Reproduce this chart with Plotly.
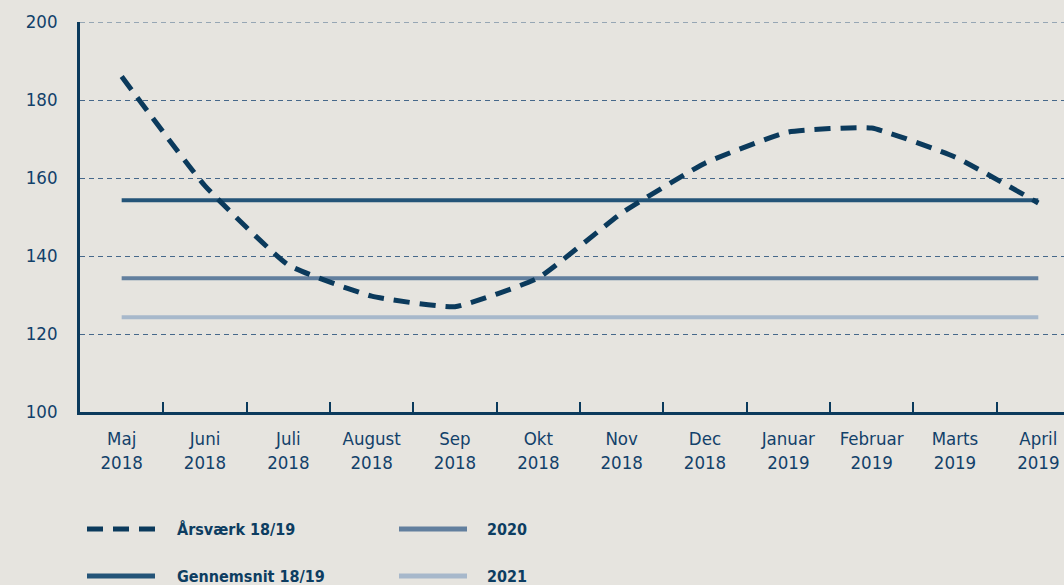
import plotly.graph_objects as go

categories = ["Maj<br>2018", "Juni<br>2018", "Juli<br>2018", "August<br>2018", "Sep<br>2018", "Okt<br>2018",
              "Nov<br>2018", "Dec<br>2018", "Januar<br>2019", "Februar<br>2019", "Marts<br>2019", "April<br>2019"]
arsvaerk = [186.0, 158.0, 137.7, 129.7, 127.0, 134.4, 151.0, 163.8, 171.8, 172.8, 165.4, 153.6]
gennemsnit = [154.3] * 12
y2020 = [134.3] * 12
y2021 = [124.3] * 12
yticks = [100, 120, 140, 160, 180, 200]

NAVY = "#0b3a5c"
TEXT = "#12416a"
C_GEN = "#245478"
C_2020 = "#627f9e"
C_2021 = "#a7b8cb"
BG = "#e6e4df"
GRID = "#46688a"
FONT = "Liberation Sans Narrow, DejaVu Sans Condensed, sans-serif"

W, H = 1064, 585
L, T, R, B = 80, 22, 1064, 412
CW = 83.33

fig = go.Figure()
fig.add_trace(go.Scatter(x=categories, y=y2021, mode="lines", line=dict(color=C_2021, width=4), name="2021"))
fig.add_trace(go.Scatter(x=categories, y=y2020, mode="lines", line=dict(color=C_2020, width=4), name="2020"))
fig.add_trace(go.Scatter(x=categories, y=gennemsnit, mode="lines", line=dict(color=C_GEN, width=4), name="Gennemsnit 18/19"))
fig.add_trace(go.Scatter(x=categories, y=arsvaerk, mode="lines",
                         line=dict(color=NAVY, width=5, dash="16px,10px", shape="spline", smoothing=0.4),
                         name="Årsværk 18/19"))


def px2paper(px, py):
    return (px - L) / (R - L), (B - py) / (B - T)


shapes = [dict(type="line", xref="paper", yref="y", x0=0, x1=1, y0=yticks[-1], y1=yticks[-1],
               line=dict(color=GRID, width=1, dash="5px,4px"), layer="below")]
annotations = []
legend_items = [
    ("Årsværk 18/19", NAVY, "16px,10px", 5, 87, 529, 175),
    ("Gennemsnit 18/19", C_GEN, "solid", 5, 87, 576, 175),
    ("2020", C_2020, "solid", 5, 399, 529, 485),
    ("2021", C_2021, "solid", 5, 399, 576, 485),
]
for label, col, dash, wd, sx, sy, tx in legend_items:
    x0, y0 = px2paper(sx, sy)
    x1, _ = px2paper(sx + 68, sy)
    shapes.append(dict(type="line", xref="paper", yref="paper", x0=x0, x1=x1, y0=y0, y1=y0,
                       line=dict(color=col, width=wd, dash=dash)))
    ax, ay = px2paper(tx, sy)
    annotations.append(dict(xref="paper", yref="paper", x=ax, y=ay, xanchor="left", yanchor="middle",
                            text="<b>" + label + "</b>", showarrow=False,
                            font=dict(family=FONT, size=16, color="#0d3d61")))

fig.update_layout(
    width=W, height=H,
    margin=dict(l=L, r=W - R, t=T, b=H - B, pad=0),
    paper_bgcolor=BG, plot_bgcolor=BG,
    showlegend=False,
    font=dict(family=FONT, size=18.5, color=TEXT),
    shapes=shapes,
    annotations=annotations,
    xaxis=dict(
        type="category",
        range=[-0.5, -0.5 + (R - L) / CW],
        showgrid=False,
        showline=True, linecolor=NAVY, linewidth=2.5,
        ticks="inside", tickson="boundaries", ticklen=10, tickwidth=2, tickcolor=NAVY,
        tickfont=dict(family=FONT, size=18.5, color=TEXT),
        ticklabelstandoff=8,
    ),
    yaxis=dict(
        range=[100, 200],
        tickvals=yticks,
        showgrid=True, gridcolor=GRID, gridwidth=1, griddash="5px,4px",
        showline=True, linecolor=NAVY, linewidth=2.5,
        zeroline=False,
        ticks="",
        tickfont=dict(family=FONT, size=18.5, color=TEXT),
        ticklabelstandoff=16,
    ),
)

fig.write_html("out.html", config={"displayModeBar": False},
               post_script="document.body.style.margin='0';document.body.style.overflow='hidden';")
